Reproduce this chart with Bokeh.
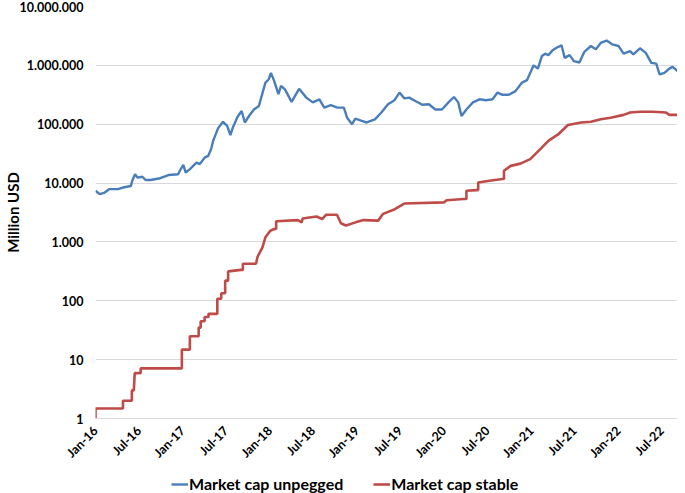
import pandas as pd
from math import pi
from bokeh.plotting import figure
from bokeh.layouts import column
from bokeh.models import (Range1d, FixedTicker, CustomJSTickFormatter,
                          DatetimeTickFormatter, Legend, LegendItem)
from bokeh.embed import file_html
from bokeh.resources import INLINE

# ---------------- data (time in decimal years) ----------------
unpegged_years = [
    2016.000, 2016.048, 2016.105, 2016.161, 2016.256, 2016.330, 2016.405, 2016.425,
    2016.454, 2016.481, 2016.537, 2016.574, 2016.631, 2016.743, 2016.837, 2016.949,
    2016.968, 2017.006, 2017.033, 2017.081, 2017.157, 2017.194, 2017.250, 2017.292,
    2017.325, 2017.348, 2017.404, 2017.461, 2017.509, 2017.546, 2017.573, 2017.630,
    2017.675, 2017.712, 2017.760, 2017.816, 2017.873, 2017.911, 2017.948, 2017.985,
    2018.012, 2018.050, 2018.098, 2018.128, 2018.173, 2018.249, 2018.335, 2018.418,
    2018.492, 2018.568, 2018.624, 2018.699, 2018.774, 2018.849, 2018.886, 2018.943,
    2018.981, 2019.055, 2019.112, 2019.206, 2019.280, 2019.356, 2019.431, 2019.488,
    2019.544, 2019.600, 2019.675, 2019.750, 2019.825, 2019.900, 2019.975, 2020.051,
    2020.114, 2020.163, 2020.200, 2020.257, 2020.332, 2020.407, 2020.482, 2020.557,
    2020.614, 2020.670, 2020.744, 2020.820, 2020.895, 2020.952, 2020.989, 2021.026,
    2021.075, 2021.121, 2021.158, 2021.195, 2021.240, 2021.289, 2021.346, 2021.383,
    2021.439, 2021.488, 2021.552, 2021.608, 2021.684, 2021.740, 2021.796, 2021.864,
    2021.927, 2022.002, 2022.059, 2022.134, 2022.171, 2022.247, 2022.314, 2022.377,
    2022.434, 2022.472, 2022.528, 2022.584, 2022.622, 2022.678,
]
unpegged_values = [
    7400, 6500, 6900, 7900, 7900, 8500, 8900, 11300,
    14100, 12400, 12800, 11300, 11300, 12100, 13700, 14100,
    16200, 20400, 15100, 17300, 22300, 21000, 27000, 29000,
    38000, 52000, 85000, 110000, 94000, 65000, 87000, 135000,
    168000, 107000, 138000, 178000, 204000, 324000, 510000, 575000,
    745000, 540000, 324000, 447000, 390000, 240000, 400000, 283000,
    235000, 265000, 191000, 210000, 191000, 191000, 129000, 100000,
    124000, 114000, 107000, 121000, 158000, 218000, 256000, 345000,
    275000, 283000, 246000, 214000, 218000, 178000, 178000, 235000,
    290000, 235000, 138000, 178000, 235000, 265000, 256000, 265000,
    345000, 316000, 316000, 365000, 510000, 560000, 745000, 1000000,
    880000, 1440000, 1580000, 1490000, 1780000, 1990000, 2190000, 1340000,
    1490000, 1180000, 1120000, 1700000, 2130000, 1870000, 2400000, 2640000,
    2280000, 2130000, 1580000, 1740000, 1540000, 1950000, 1630000, 1100000,
    1070000, 700000, 745000, 880000, 940000, 800000,
]

# stable market cap: repeated years mark the jumps of the staircase
stable_years = [
    2016.000, 2016.000, 2016.315, 2016.315, 2016.417, 2016.417, 2016.440, 2016.450,
    2016.518, 2016.518, 2016.991, 2016.991, 2017.081, 2017.081, 2017.182, 2017.182,
    2017.205, 2017.205, 2017.250, 2017.250, 2017.295, 2017.295, 2017.396, 2017.396,
    2017.441, 2017.441, 2017.486, 2017.486, 2017.520, 2017.520, 2017.667, 2017.689,
    2017.689, 2017.840, 2017.858, 2017.914, 2017.948, 2018.005, 2018.050, 2018.072,
    2018.072, 2018.320, 2018.365, 2018.376, 2018.534, 2018.600, 2018.646, 2018.770,
    2018.815, 2018.872, 2018.984, 2019.074, 2019.243, 2019.300, 2019.435, 2019.547,
    2019.998, 2020.030, 2020.223, 2020.257, 2020.257, 2020.370, 2020.392, 2020.392,
    2020.560, 2020.673, 2020.688, 2020.688, 2020.764, 2020.876, 2020.989, 2021.045,
    2021.120, 2021.195, 2021.307, 2021.420, 2021.571, 2021.684, 2021.796, 2021.909,
    2022.059, 2022.134, 2022.247, 2022.396, 2022.546, 2022.584, 2022.678,
]
stable_values = [
    1.0, 1.48, 1.48, 2.0, 2.0, 3.0, 3.0, 5.9,
    5.9, 7.1, 7.1, 14.8, 14.8, 25, 25, 35,
    35, 45, 45, 53, 53, 60, 60, 108,
    108, 134, 134, 220, 220, 316, 335, 335,
    425, 425, 560, 810, 1200, 1550, 1660, 1660,
    2240, 2350, 2150, 2500, 2700, 2450, 2900, 2900,
    2080, 1900, 2150, 2350, 2300, 3000, 3600, 4500,
    4700, 5100, 5350, 5350, 7400, 7600, 7600, 10200,
    11200, 11700, 11700, 16200, 19600, 21400, 25500, 31000,
    40000, 52000, 67000, 97000, 107000, 110000, 121000, 129000,
    144000, 158000, 163000, 163000, 158000, 144000, 144000,
]

x_tick_dates = [
    "2016-01-01", "2016-07-01", "2017-01-01", "2017-07-01", "2018-01-01", "2018-07-01",
    "2019-01-01", "2019-07-01", "2020-01-01", "2020-07-01", "2021-01-01", "2021-07-01",
    "2022-01-01", "2022-07-01",
]
y_ticks = [1, 10, 100, 1000, 10000, 100000, 1000000, 10000000]

series_names = ["Market cap unpegged", "Market cap stable"]
series_colors = ["#4A7EBB", "#BE4B48"]


def to_dates(years):
    return [pd.Timestamp(int(y), 1, 1) + pd.Timedelta(days=(y - int(y)) * 365.25)
            for y in years]


# ---------------- main figure ----------------
FONT = "Lato"
ux = to_dates(unpegged_years)
sx = to_dates(stable_years)

p = figure(width=677, height=468, y_axis_type="log", x_axis_type="datetime",
           x_range=Range1d(ux[0], ux[-1]),
           y_range=Range1d(1, 1e7),
           output_backend="svg", toolbar_location=None,
           min_border_left=80, min_border_right=0, min_border_top=6, min_border_bottom=50)
p.outline_line_color = None

p.line(ux, unpegged_values, line_color=series_colors[0], line_width=2.4)
p.line(sx, stable_values, line_color=series_colors[1], line_width=2.6)

# y axis
p.yaxis.ticker = FixedTicker(ticks=y_ticks)
p.yaxis.formatter = CustomJSTickFormatter(code="""
    return Math.round(tick).toString().replace(/\\B(?=(\\d{3})+(?!\\d))/g, ".");
""")
p.yaxis.axis_label = "Million USD"
p.yaxis.axis_label_text_font = FONT
p.yaxis.axis_label_text_font_size = "15px"
p.yaxis.axis_label_text_font_style = "bold"
p.yaxis.axis_label_text_color = "black"
p.yaxis.axis_label_standoff = -5
p.yaxis.major_label_text_font = FONT
p.yaxis.major_label_text_font_size = "12.5px"
p.yaxis.major_label_text_font_style = "bold"
p.yaxis.major_label_text_color = "black"
p.yaxis.major_label_standoff = 6
p.yaxis.axis_line_color = None
p.yaxis.major_tick_line_color = None
p.yaxis.minor_tick_line_color = None

# x axis
p.xaxis.ticker = FixedTicker(ticks=[pd.Timestamp(d).value / 1e6 for d in x_tick_dates])
fmt = "%b-%y"
p.xaxis.formatter = DatetimeTickFormatter(days=fmt, months=fmt, years=fmt, hours=fmt)
p.xaxis.major_label_orientation = pi / 4
p.xaxis.major_label_text_font = FONT
p.xaxis.major_label_text_font_size = "12.5px"
p.xaxis.major_label_text_font_style = "bold"
p.xaxis.major_label_text_color = "black"
p.xaxis.major_label_standoff = 4
p.xaxis.axis_line_color = "#D9D9D9"
p.xaxis.major_tick_line_color = None
p.xaxis.minor_tick_line_color = None

# grid
p.xgrid.visible = False
p.ygrid.ticker = FixedTicker(ticks=y_ticks)
p.ygrid.grid_line_color = "#D9D9D9"
p.ygrid.grid_line_width = 1

# ---------------- legend strip ----------------
lg = figure(width=677, height=25, output_backend="svg", toolbar_location=None,
            x_range=Range1d(0, 1), y_range=Range1d(0, 1),
            x_axis_location=None, y_axis_location=None,
            min_border_left=0, min_border_right=0, min_border_top=0, min_border_bottom=0)
lg.grid.visible = False
lg.outline_line_color = None
d1 = lg.line([5, 6], [5, 5], line_color=series_colors[0], line_width=2.4)
d2 = lg.line([5, 6], [5, 5], line_color=series_colors[1], line_width=2.6)
legend = Legend(items=[LegendItem(label=series_names[0], renderers=[d1]),
                       LegendItem(label=series_names[1], renderers=[d2])],
                orientation="horizontal", location=(76, 0),
                label_text_font=FONT, label_text_font_size="16px",
                label_text_font_style="bold", label_text_color="black",
                glyph_width=17, glyph_height=16, label_standoff=1, spacing=30,
                border_line_color=None, background_fill_alpha=0,
                padding=2, margin=0)
lg.add_layout(legend)

layout = column(p, lg, spacing=0)
open("out.html", "w").write(file_html(layout, INLINE))
